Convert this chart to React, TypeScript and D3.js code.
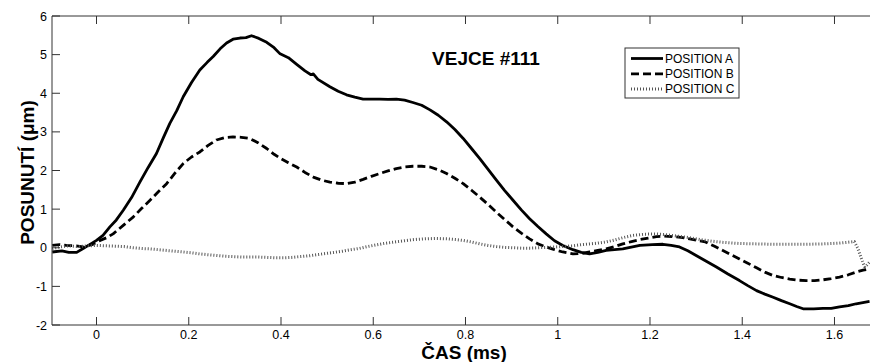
import React from "react";
import * as d3 from "d3";

const seriesA: [number, number][] = [
  [-0.096, -0.11], [-0.075, -0.08], [-0.06, -0.12], [-0.043, -0.12], [-0.029, -0.02], [-0.015, 0.08],
  [0, 0.19], [0.014, 0.32], [0.029, 0.54], [0.043, 0.72], [0.058, 0.97], [0.076, 1.3], [0.094, 1.7],
  [0.112, 2.08], [0.13, 2.44], [0.145, 2.85], [0.159, 3.22], [0.174, 3.55], [0.188, 3.91], [0.206, 4.28],
  [0.224, 4.6], [0.24, 4.8], [0.253, 4.95], [0.268, 5.15], [0.282, 5.3], [0.296, 5.4], [0.311, 5.43],
  [0.324, 5.44], [0.336, 5.49], [0.352, 5.42], [0.369, 5.32], [0.385, 5.18], [0.398, 5.02], [0.416, 4.92],
  [0.434, 4.75], [0.452, 4.58], [0.465, 4.48], [0.47, 4.5], [0.48, 4.36], [0.506, 4.17], [0.524, 4.05],
  [0.542, 3.96], [0.56, 3.9], [0.578, 3.85], [0.614, 3.85], [0.632, 3.84], [0.65, 3.85], [0.668, 3.82],
  [0.686, 3.76], [0.705, 3.69], [0.723, 3.57], [0.741, 3.43], [0.759, 3.26], [0.777, 3.06], [0.795, 2.83],
  [0.813, 2.57], [0.831, 2.31], [0.849, 2.03], [0.867, 1.75], [0.885, 1.48], [0.903, 1.23], [0.921, 0.98],
  [0.939, 0.75], [0.957, 0.55], [0.975, 0.36], [0.993, 0.18], [1.011, 0.06], [1.033, -0.05], [1.051, -0.12],
  [1.069, -0.16], [1.087, -0.12], [1.105, -0.07], [1.141, -0.03], [1.178, 0.06], [1.205, 0.08], [1.228, 0.09],
  [1.246, 0.06], [1.264, 0.02], [1.282, -0.08], [1.3, -0.2], [1.322, -0.35], [1.344, -0.5], [1.369, -0.68],
  [1.394, -0.85], [1.412, -0.98], [1.431, -1.11], [1.449, -1.2], [1.467, -1.28], [1.485, -1.37], [1.503, -1.45],
  [1.518, -1.52], [1.532, -1.58], [1.555, -1.58], [1.575, -1.57], [1.593, -1.57], [1.611, -1.53], [1.63, -1.5],
  [1.647, -1.45], [1.676, -1.39],
];

const seriesB: [number, number][] = [
  [-0.096, 0.06], [-0.08, 0.08], [-0.065, 0.06], [-0.045, 0.05], [-0.029, 0.02], [-0.01, 0.08], [0.008, 0.19],
  [0.022, 0.26], [0.036, 0.36], [0.058, 0.58], [0.08, 0.8], [0.098, 1.02], [0.116, 1.23], [0.134, 1.45],
  [0.152, 1.66], [0.17, 1.93], [0.188, 2.18], [0.206, 2.35], [0.224, 2.48], [0.242, 2.65], [0.26, 2.79],
  [0.278, 2.85], [0.296, 2.87], [0.314, 2.86], [0.332, 2.83], [0.35, 2.72], [0.369, 2.57], [0.385, 2.42],
  [0.398, 2.32], [0.416, 2.2], [0.434, 2.09], [0.452, 1.95], [0.47, 1.83], [0.488, 1.75], [0.506, 1.7],
  [0.524, 1.67], [0.542, 1.66], [0.56, 1.7], [0.578, 1.77], [0.596, 1.85], [0.614, 1.92], [0.632, 1.99],
  [0.65, 2.05], [0.668, 2.09], [0.686, 2.11], [0.705, 2.11], [0.723, 2.09], [0.741, 2.02], [0.759, 1.92],
  [0.777, 1.8], [0.795, 1.66], [0.813, 1.49], [0.831, 1.31], [0.849, 1.12], [0.867, 0.92], [0.885, 0.73],
  [0.903, 0.54], [0.921, 0.38], [0.939, 0.23], [0.957, 0.1], [0.975, 0.02], [0.993, -0.05], [1.011, -0.11],
  [1.033, -0.16], [1.051, -0.15], [1.069, -0.11], [1.087, -0.07], [1.105, -0.03], [1.123, 0.03], [1.141, 0.1],
  [1.16, 0.16], [1.178, 0.21], [1.196, 0.25], [1.214, 0.29], [1.23, 0.3], [1.248, 0.29], [1.267, 0.27],
  [1.286, 0.23], [1.304, 0.19], [1.32, 0.15], [1.34, 0.04], [1.358, -0.07], [1.376, -0.18], [1.394, -0.29],
  [1.412, -0.4], [1.431, -0.52], [1.449, -0.63], [1.467, -0.72], [1.485, -0.77], [1.503, -0.81], [1.521, -0.84],
  [1.539, -0.85], [1.557, -0.85], [1.575, -0.83], [1.593, -0.8], [1.611, -0.76], [1.63, -0.7], [1.647, -0.63],
  [1.662, -0.58], [1.676, -0.55],
];

const seriesC: [number, number][] = [
  [-0.096, -0.03], [-0.08, 0.02], [-0.06, 0.05], [-0.04, 0.03], [-0.02, 0.05], [0, 0.06], [0.02, 0.05],
  [0.044, 0.04], [0.06, 0.03], [0.08, 0.0], [0.1, -0.02], [0.116, -0.03], [0.134, -0.05], [0.152, -0.07],
  [0.17, -0.09], [0.188, -0.11], [0.206, -0.13], [0.224, -0.16], [0.242, -0.18], [0.26, -0.2], [0.278, -0.22],
  [0.296, -0.23], [0.314, -0.24], [0.332, -0.24], [0.35, -0.24], [0.369, -0.25], [0.387, -0.26], [0.405, -0.26],
  [0.423, -0.25], [0.441, -0.23], [0.46, -0.21], [0.478, -0.18], [0.496, -0.15], [0.515, -0.12], [0.533, -0.09],
  [0.551, -0.05], [0.569, -0.02], [0.587, 0.03], [0.605, 0.07], [0.623, 0.11], [0.641, 0.14], [0.66, 0.17],
  [0.686, 0.21], [0.71, 0.23], [0.737, 0.24], [0.76, 0.23], [0.78, 0.21], [0.795, 0.19], [0.813, 0.15],
  [0.831, 0.1], [0.849, 0.06], [0.867, 0.03], [0.885, 0.01], [0.903, 0.0], [0.921, -0.01], [0.939, -0.01],
  [0.957, 0.0], [0.975, 0.01], [0.993, 0.02], [1.011, 0.03], [1.033, 0.05], [1.051, 0.08], [1.069, 0.1],
  [1.087, 0.12], [1.105, 0.15], [1.123, 0.2], [1.141, 0.26], [1.163, 0.32], [1.188, 0.35], [1.214, 0.36],
  [1.24, 0.33], [1.26, 0.3], [1.286, 0.26], [1.31, 0.21], [1.334, 0.17], [1.358, 0.14], [1.394, 0.11],
  [1.431, 0.1], [1.467, 0.09], [1.503, 0.09], [1.539, 0.09], [1.575, 0.1], [1.611, 0.12], [1.643, 0.16],
  [1.65, 0.0], [1.656, -0.2], [1.662, -0.4], [1.666, -0.5], [1.67, -0.45], [1.676, -0.37],
];

const xTicks = [0, 0.2, 0.4, 0.6, 0.8, 1, 1.2, 1.4, 1.6];
const yTicks = [-2, -1, 0, 1, 2, 3, 4, 5, 6];
const legendLabels = ["POSITION A", "POSITION B", "POSITION C"];
const titleText = "VEJCE #111";
const xLabel = "ČAS (ms)";
const yLabel = "POSUNUTÍ (\u03bcm)";

const W = 870;
const H = 362;
const L = 52;
const R = 870;
const T = 16;
const B = 325;

export default function App() {
  const x = d3.scaleLinear().domain([-0.0965, 1.677]).range([L, R]);
  const y = d3.scaleLinear().domain([-2, 6]).range([B, T]);
  const line = d3
    .line<[number, number]>()
    .x((d) => x(d[0]))
    .y((d) => y(d[1]));

  const styles = [
    { stroke: "#000", width: 2.8, dash: undefined as string | undefined },
    { stroke: "#000", width: 2.8, dash: "8,4" },
    { stroke: "#555", width: 3, dash: "1,2" },
  ];
  const data = [seriesA, seriesB, seriesC];
  const font = "'Liberation Sans', Arial, sans-serif";
  const tickLen = 8;
  const legX = 625;
  const legY = 48;
  const legW = 114;
  const legH = 50;
  const legRow = 15.3;

  return (
    <svg
      width={W}
      height={H}
      style={{ position: "absolute", left: 0, top: 0, background: "#fff" }}
      fontFamily={font}
    >
      <defs>
        <clipPath id="plotClip">
          <rect x={L} y={T} width={R - L} height={B - T} />
        </clipPath>
      </defs>
      <rect x={0} y={0} width={W} height={H} fill="#fff" />

      {/* data lines */}
      <g clipPath="url(#plotClip)">
        {data.map((s, i) => (
          <path
            key={i}
            d={line(s) || ""}
            fill="none"
            stroke={styles[i].stroke}
            strokeWidth={styles[i].width}
            strokeDasharray={styles[i].dash}
            strokeLinejoin="round"
          />
        ))}
      </g>

      {/* axes frame */}
      <g stroke="#333" strokeWidth={1} fill="none">
        <line x1={L} y1={T} x2={L} y2={B} />
        <line x1={L} y1={B} x2={R} y2={B} />
        <line x1={L} y1={T} x2={R} y2={T} />
        {xTicks.map((t) => (
          <g key={"xt" + t}>
            <line x1={x(t)} x2={x(t)} y1={B} y2={B - tickLen} />
            <line x1={x(t)} x2={x(t)} y1={T} y2={T + tickLen} />
          </g>
        ))}
        {yTicks.map((t) => (
          <line key={"yt" + t} x1={L} x2={L + tickLen} y1={y(t)} y2={y(t)} />
        ))}
      </g>

      {/* tick labels */}
      <g fontSize={12.5} fill="#000">
        {xTicks.map((t) => (
          <text key={"xl" + t} x={x(t)} y={B + 14} textAnchor="middle">
            {String(t)}
          </text>
        ))}
        {yTicks.map((t) => (
          <text key={"yl" + t} x={L - 5} y={y(t) + 4.5} textAnchor="end">
            {String(t)}
          </text>
        ))}
      </g>

      {/* axis labels */}
      <text
        x={(L + R) / 2 + 3}
        y={359}
        textAnchor="middle"
        fontWeight="bold"
        fontSize={19}
      >
        {xLabel}
      </text>
      <text
        transform={`translate(34, ${y(2) + 2}) rotate(-90)`}
        textAnchor="middle"
        fontWeight="bold"
        fontSize={19}
      >
        {yLabel}
      </text>

      {/* title */}
      <text x={486} y={65} textAnchor="middle" fontWeight="bold" fontSize={19}>
        {titleText}
      </text>

      {/* legend */}
      <g>
        <rect x={legX} y={legY} width={legW} height={legH} fill="#fff" stroke="#333" strokeWidth={1} />
        {legendLabels.map((lab, i) => {
          const cy = legY + 10.5 + i * legRow;
          return (
            <g key={lab}>
              <line
                x1={legX + 6}
                x2={legX + 38}
                y1={cy}
                y2={cy}
                stroke={styles[i].stroke}
                strokeWidth={styles[i].width}
                strokeDasharray={styles[i].dash}
              />
              <text x={legX + 40} y={cy + 4.3} fontSize={12} fill="#000">
                {lab}
              </text>
            </g>
          );
        })}
      </g>
    </svg>
  );
}
